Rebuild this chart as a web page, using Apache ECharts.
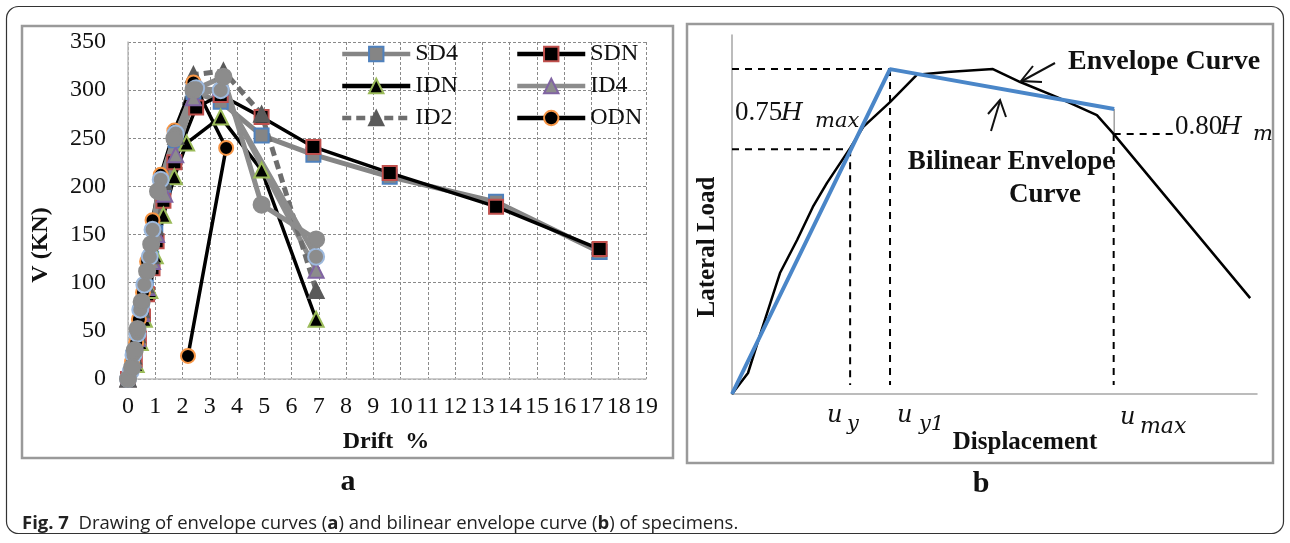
<!DOCTYPE html>
<html>
<head>
<meta charset="utf-8">
<script src="https://cdn.jsdelivr.net/npm/echarts@6/dist/echarts.min.js"></script>
<style>
html,body{margin:0;padding:0;background:#fff;}
#chart{width:1290px;height:543px;}
</style>
</head>
<body>
<div id="chart"></div>
<script>
// ---------- Panel (a) data: [drift %, V (kN)] ----------
const sd4 = [[0,0],[0.2,22],[0.35,45],[0.5,70],[0.65,95],[0.85,125],[1.0,152],[1.3,200],[1.75,248],[2.4,298],[3.4,288],[4.9,253],[6.8,233],[9.6,210],[13.5,184],[17.3,132]];
const sdn = [[0,0],[0.25,20],[0.4,42],[0.55,65],[0.7,88],[0.9,115],[1.05,143],[1.3,185],[1.7,225],[2.5,282],[3.4,295],[4.9,272],[6.8,241],[9.6,214],[13.5,179],[17.3,135]];
const idn = [[0,0],[0.3,15],[0.45,38],[0.6,62],[0.8,92],[1.0,128],[1.3,170],[1.7,210],[2.15,245],[3.4,272],[4.9,217],[6.9,62]];
const id4 = [[0,0],[0.2,20],[0.35,42],[0.5,68],[0.7,95],[0.9,122],[1.05,150],[1.35,192],[1.75,233],[2.4,292],[3.4,303],[6.9,113]];
const id2 = [[0,0],[0.2,24],[0.35,46],[0.5,72],[0.65,98],[0.85,128],[1.0,158],[1.3,205],[1.75,252],[2.4,316],[3.5,320],[4.9,275],[6.9,92]];
const odn = [[0,0],[0.15,18],[0.3,38],[0.4,62],[0.55,90],[0.7,122],[0.9,165],[1.2,212],[1.7,258],[2.4,308],[3.6,240],[2.2,24]];
const od2 = [[0,0],[0.1,8],[0.2,25],[0.35,47],[0.45,72],[0.6,98],[0.8,127],[0.9,155],[1.2,207],[1.75,255],[2.5,302],[3.4,300],[6.9,127]];
const od4 = [[0,0],[0.15,12],[0.25,30],[0.35,52],[0.5,80],[0.7,112],[0.85,140],[1.1,195],[1.7,250],[2.4,300],[3.5,314],[4.9,181],[6.9,145]];
const legendLeft = ['SD4','IDN','ID2'];
const legendRight = ['SDN','ID4','ODN'];

// ---------- Panel (b) data: schematic (relative units) ----------
const envelope = [[0,0],[3.05,5.85],[5.33,16.4],[9.14,33.7],[12.4,42.9],[15.4,52.1],[18.1,58.8],[22.5,68.5],[25.0,74.4],[30.1,81.3],[35.2,88.9],[41.0,89.7],[49.7,90.5],[54.9,86.9],[61.9,82.7],[69.5,77.7],[72.6,72.6],[98.7,26.7]];
const bilinear = [[0,0],[30.1,90.5],[72.8,79.4]];
const hMax = 90.5, h75 = 68.2, h80 = 72.4;
const uY = 22.5, uY1 = 30.1, uMax = 72.7;
const dashEnd = 2.5, h80LineEnd = 84.4;

const serif = 'Liberation Serif';
const chart = echarts.init(document.getElementById('chart'), null, {renderer:'canvas'});

function lineSeries(name, data, o){
  return {
    name, type:'line', data, xAxisIndex:0, yAxisIndex:0,
    symbol:o.symbol, symbolSize:o.size, showAllSymbol:true,
    lineStyle:{color:o.line, width:o.width, type:o.dash||'solid'},
    itemStyle:{color:o.fill, borderColor:o.border, borderWidth:2},
    z:o.z||2, emphasis:{disabled:true}, animation:false
  };
}
const dashStyle = {color:'#000', width:2, type:[7,6]};
function guide(data){
  return {type:'line', xAxisIndex:1, yAxisIndex:1, data, symbol:'none', lineStyle:dashStyle, silent:true, animation:false};
}
const legendBase = {orient:'vertical', top:42, padding:0, itemWidth:68, itemHeight:18, itemGap:8,
  lineStyle:{width:4.5}, textStyle:{fontFamily:serif, fontSize:24, color:'#111', lineHeight:22}, selectedMode:false};

const mathFont = '"DejaVu Serif"';
const option = {
  animation:false,
  backgroundColor:'#fff',
  grid:[
    {left:128, top:42, width:518, height:337},
    {left:732, top:35, width:525, height:359}
  ],
  xAxis:[
    {type:'value', gridIndex:0, min:0, max:19, interval:1,
     axisLine:{show:true, onZero:false, lineStyle:{color:'#bdbdbd', width:1.5}},
     axisTick:{show:false},
     axisLabel:{fontFamily:serif, fontSize:24, color:'#111', margin:16, showMinLabel:true, showMaxLabel:true},
     splitLine:{show:true, lineStyle:{color:'#8a8a8a', width:1, type:[3,2]}}},
    {type:'value', gridIndex:1, min:0, max:100,
     axisLine:{show:true, onZero:false, lineStyle:{color:'#a6a6a6', width:1.5}},
     axisTick:{show:false}, axisLabel:{show:false}, splitLine:{show:false}}
  ],
  yAxis:[
    {type:'value', gridIndex:0, min:0, max:350, interval:50,
     axisLine:{show:true, onZero:false, lineStyle:{color:'#bdbdbd', width:1.5}},
     axisTick:{show:false},
     axisLabel:{fontFamily:serif, fontSize:24, color:'#111', margin:22},
     splitLine:{show:true, lineStyle:{color:'#8a8a8a', width:1, type:[3,2]}}},
    {type:'value', gridIndex:1, min:0, max:100,
     axisLine:{show:true, onZero:false, lineStyle:{color:'#a6a6a6', width:1.5}},
     axisTick:{show:false}, axisLabel:{show:false}, splitLine:{show:false}}
  ],
  legend:[
    Object.assign({data:legendLeft, left:340}, legendBase),
    Object.assign({data:legendRight, left:515}, legendBase)
  ],
  series:[
    lineSeries('SD4', sd4, {symbol:'rect', size:14, line:'#858585', width:5, fill:'#858585', border:'#4F81BD'}),
    lineSeries('SDN', sdn, {symbol:'rect', size:14, line:'#000', width:3.5, fill:'#000', border:'#C0504D'}),
    lineSeries('IDN', idn, {symbol:'triangle', size:15, line:'#000', width:3.5, fill:'#000', border:'#9BBB59'}),
    lineSeries('ID4', id4, {symbol:'triangle', size:15, line:'#8c8c8c', width:5, fill:'#8c8c8c', border:'#8064A2'}),
    lineSeries('ID2', id2, {symbol:'triangle', size:15, line:'#6e6e6e', width:5, dash:[9,5], fill:'#5a5a5a', border:'#5a5a5a'}),
    lineSeries('ODN', odn, {symbol:'circle', size:14, line:'#000', width:3.5, fill:'#000', border:'#F79646'}),
    lineSeries('OD2', od2, {symbol:'circle', size:16, line:'#8c8c8c', width:5, fill:'#8c8c8c', border:'#9DB9DD'}),
    lineSeries('OD4', od4, {symbol:'circle', size:16, line:'#8c8c8c', width:5, fill:'#8c8c8c', border:'#8c8c8c'}),
    // panel b
    guide([[0,hMax],[uY1,hMax]]),
    guide([[0,h75],[uY,h75]]),
    guide([[uY,h75],[uY,dashEnd]]),
    guide([[uY1,hMax],[uY1,dashEnd]]),
    guide([[uMax,h80],[uMax,dashEnd]]),
    guide([[uMax,h80],[h80LineEnd,h80]]),
    {type:'line', xAxisIndex:1, yAxisIndex:1, data:[[bilinear[2][0],bilinear[2][1]],[bilinear[2][0],h80]], symbol:'none', lineStyle:{color:'#a0a0a0', width:1.5}, animation:false},
    {type:'line', xAxisIndex:1, yAxisIndex:1, data:envelope, symbol:'none', lineStyle:{color:'#000', width:2.5}, animation:false, z:3},
    {type:'line', xAxisIndex:1, yAxisIndex:1, data:bilinear, symbol:'none', lineStyle:{color:'#4A86C8', width:4}, animation:false, z:4}
  ],
  graphic:[
    // outer frame
    {type:'rect', shape:{x:6.5, y:6.5, width:1277, height:527, r:12}, style:{fill:null, stroke:'#333', lineWidth:1.2}, z:-1},
    // panel frames
    {type:'rect', shape:{x:22, y:26, width:651, height:432}, style:{fill:null, stroke:'#9a9a9a', lineWidth:2.5}, z:-1},
    {type:'rect', shape:{x:687, y:24, width:586, height:439}, style:{fill:null, stroke:'#9a9a9a', lineWidth:2.5}, z:10},
    // panel a titles
    {type:'text', x:386, y:442, style:{text:'Drift  %', font:'bold 24px "Liberation Serif"', fill:'#111', align:'center', verticalAlign:'middle'}},
    {type:'text', x:41, y:245, rotation:Math.PI/2, style:{text:'V (KN)', font:'bold 24px "Liberation Serif"', fill:'#111', align:'center', verticalAlign:'middle'}},
    {type:'text', x:348, y:482, style:{text:'a', font:'bold 30px "Liberation Serif"', fill:'#111', align:'center', verticalAlign:'middle'}},
    {type:'text', x:981, y:484, style:{text:'b', font:'bold 30px "Liberation Serif"', fill:'#111', align:'center', verticalAlign:'middle'}},
    // panel b titles
    {type:'text', x:1025, y:443, style:{text:'Displacement', font:'bold 25px "Liberation Serif"', fill:'#111', align:'center', verticalAlign:'middle'}},
    {type:'text', x:708, y:247, rotation:Math.PI/2, style:{text:'Lateral Load', font:'bold 25px "Liberation Serif"', fill:'#111', align:'center', verticalAlign:'middle'}},
    {type:'text', x:1068, y:62, style:{text:'Envelope Curve', font:'bold 28px "Liberation Serif"', fill:'#111', align:'left', verticalAlign:'middle'}},
    {type:'text', x:1011, y:162, style:{text:'Bilinear Envelope', font:'bold 27px "Liberation Serif"', fill:'#111', align:'center', verticalAlign:'middle'}},
    {type:'text', x:1045, y:195, style:{text:'Curve', font:'bold 27px "Liberation Serif"', fill:'#111', align:'center', verticalAlign:'middle'}},
    // math labels
    {type:'text', x:735, y:113, style:{text:'0.75', font:'27px "Liberation Serif"', fill:'#111', align:'left', verticalAlign:'middle'}},
    {type:'text', x:781, y:113, style:{text:'H', font:'italic 25px '+mathFont, fill:'#111', align:'left', verticalAlign:'middle'}},
    {type:'text', x:815, y:122, style:{text:'max', font:'italic 21px '+mathFont, fill:'#111', align:'left', verticalAlign:'middle'}},
    {type:'text', x:1175, y:127, style:{text:'0.80', font:'27px "Liberation Serif"', fill:'#111', align:'left', verticalAlign:'middle'}},
    {type:'text', x:1220, y:127, style:{text:'H', font:'italic 25px '+mathFont, fill:'#111', align:'left', verticalAlign:'middle'}},
    {type:'text', x:1253, y:135, style:{text:'m', font:'italic 21px '+mathFont, fill:'#111', align:'left', verticalAlign:'middle'}},
    {type:'text', x:827, y:416, style:{text:'u', font:'italic 24px '+mathFont, fill:'#111', align:'left', verticalAlign:'middle'}},
    {type:'text', x:847, y:425, style:{text:'y', font:'italic 21px '+mathFont, fill:'#111', align:'left', verticalAlign:'middle'}},
    {type:'text', x:897, y:416, style:{text:'u', font:'italic 24px '+mathFont, fill:'#111', align:'left', verticalAlign:'middle'}},
    {type:'text', x:919, y:425, style:{text:'y1', font:'italic 21px '+mathFont, fill:'#111', align:'left', verticalAlign:'middle'}},
    {type:'text', x:1120, y:418, style:{text:'u', font:'italic 24px '+mathFont, fill:'#111', align:'left', verticalAlign:'middle'}},
    {type:'text', x:1140, y:427, style:{text:'max', font:'italic 22px '+mathFont, fill:'#111', align:'left', verticalAlign:'middle'}},
    // arrows
    {type:'polyline', shape:{points:[[1055,63],[1022,81]]}, style:{stroke:'#111', lineWidth:2, fill:null}, z:5},
    {type:'polyline', shape:{points:[[1033,66],[1021,81],[1042,82]]}, style:{stroke:'#111', lineWidth:2, fill:null}, z:5},
    {type:'polyline', shape:{points:[[991,131],[1000,101]]}, style:{stroke:'#111', lineWidth:2, fill:null}, z:5},
    {type:'polyline', shape:{points:[[988,114],[1000,100],[1006,117]]}, style:{stroke:'#111', lineWidth:2, fill:null}, z:5},
    // caption
    {type:'text', x:22, y:524, style:{
      text:'{b|Fig. 7}  Drawing of envelope curves ({b|a}) and bilinear envelope curve ({b|b}) of specimens.',
      font:'18.5px "Open Sans"', fill:'#222', align:'left', verticalAlign:'middle',
      rich:{b:{fontWeight:'bold', fontFamily:'Open Sans', fontSize:18.5, fill:'#222'}}
    }}
  ]
};
chart.setOption(option);
</script>
</body>
</html>
